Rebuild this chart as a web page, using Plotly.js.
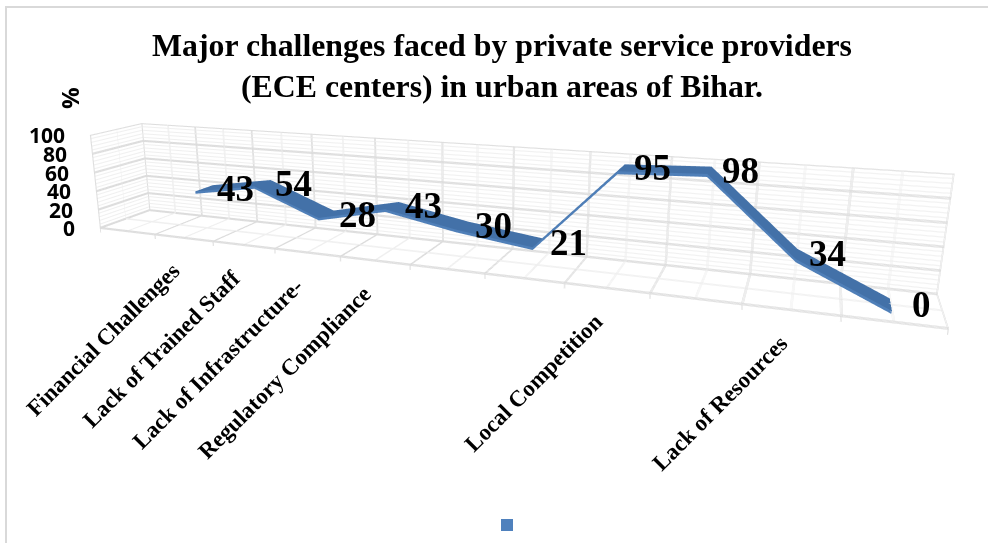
<!DOCTYPE html>
<html><head><meta charset="utf-8">
<script src="https://cdn.plot.ly/plotly-3.0.1.min.js"></script>
<style>html,body{margin:0;padding:0;background:#fff;width:988px;height:543px;overflow:hidden}
#chart{position:absolute;left:-152px;top:-162px;width:1140px;height:768px}</style>
</head><body><div id="chart"></div>
<script>
const titleLines = ['Major challenges faced by private service providers', '(ECE centers) in urban areas of Bihar.'];
const valueAxisLabel = '%';
const slotLabels = ['', 'Financial Challenges', 'Lack of Trained Staff', 'Lack of Infrastructure-', 'Regulatory Compliance', '', '', 'Local Competition', '', 'Lack of Resources', ''];
const slotValues = [null, 43, 54, 28, 43, 30, 21, 95, 98, 34, 0];
const valueTicks = [0, 20, 40, 60, 80, 100];
const W = 1140, H = 768, OX = 152, OY = 162;
const px = x => (x + OX) / W, py = y => 1 - (y + OY) / H;

const serif = '"Liberation Serif", "Times New Roman", serif';
const sans = '"Open Sans", "Noto Sans", sans-serif';
const pts = slotValues.map((v, i) => ({v, x: i + 0.5, l: slotLabels[i]}));
const data = pts.filter(p => p.v !== null);
const xs = data.map(p => p.x), zs = data.map(p => p.v);
const nSlots = slotLabels.length;
const zMax = valueTicks[valueTicks.length - 1];
const zMin = -5;

// WebGL lines are one pixel wide here, so a thick gridline is a few neighbouring lines.
const clampX = v => Math.max(0, Math.min(nSlots, v)), clampZ = v => Math.max(zMin, Math.min(zMax, v));
function segs() {
  const s = {x: [], y: [], z: [],
    add(a, b, axis, step, copies) {
      for (let c = 0; c < copies; c++) {
        const d = (c - (copies - 1) / 2) * step;
        const dx = axis === 'x' ? d : 0, dz = axis === 'z' ? d : 0;
        s.x.push(clampX(a[0] + dx), clampX(b[0] + dx), null);
        s.y.push(a[1], b[1], null);
        s.z.push(clampZ(a[2] + dz), clampZ(b[2] + dz), null);
      }
    }};
  return s;
}
const minor = segs(), major = segs();
const XS = .011, ZS = .6;
for (let z = 0; z <= zMax; z += 4) {
  if (z % 20) { minor.add([0, 1, z], [nSlots, 1, z], 'z', ZS, 2); minor.add([0, 0, z], [0, 1, z], 'z', ZS, 2); }
}
for (let i = 0; i < nSlots; i++) { minor.add([i + .5, 1, 0], [i + .5, 1, zMax], 'x', XS, 3); minor.add([i + .5, 0, 0], [i + .5, 1, 0], 'x', XS, 3); }
minor.add([0, .5, 0], [0, .5, zMax], 'z', ZS, 1); minor.add([0, .5, 0], [nSlots, .5, 0], 'z', ZS, 3);
valueTicks.forEach(z => { major.add([0, 1, z], [nSlots, 1, z], 'z', ZS, 4); major.add([0, 0, z], [0, 1, z], 'z', ZS, 4); });
for (let i = 0; i <= nSlots; i++) {
  major.add([i, 1, 0], [i, 1, zMax], 'x', XS, 3);
  major.add([i, 0, 0], [i, 1, 0], 'x', XS, 3);
  major.add([i, 0, 0], [i, 0, zMin], 'x', XS, 2);
}
major.add([0, 0, 0], [0, 0, zMax], 'x', XS, 3); major.add([0, 0, 0], [nSlots, 0, 0], 'z', ZS, 4);

const ribbonFront = .31, ribbonBack = .69, lipDepth = 2.5;
const flat = c => [[0, c], [1, c]];
const noLight = {ambient: 1, diffuse: 0, specular: 0, roughness: 1, fresnel: 0};
const traces = [
  {type: 'scatter3d', mode: 'lines', x: minor.x, y: minor.y, z: minor.z, line: {color: '#efefef', width: 1}, hoverinfo: 'skip', showlegend: false, connectgaps: false},
  {type: 'scatter3d', mode: 'lines', x: major.x, y: major.y, z: major.z, line: {color: '#dcdcdc', width: 1}, hoverinfo: 'skip', showlegend: false, connectgaps: false},
  {type: 'surface', x: xs, y: [ribbonFront, ribbonBack], z: [zs, zs], surfacecolor: [zs.map(() => 0), zs.map(() => 0)],
   colorscale: flat('#4371a8'), cmin: 0, cmax: 1, showscale: false, hoverinfo: 'skip', lighting: noLight},
  {type: 'surface', x: [xs, xs], y: [xs.map(() => ribbonFront), xs.map(() => ribbonFront)], z: [zs.map(v => Math.max(zMin, v - lipDepth)), zs], surfacecolor: [zs.map(() => 0), zs.map(() => 0)],
   colorscale: flat('#4f7fb8'), cmin: 0, cmax: 1, showscale: false, hoverinfo: 'skip', lighting: noLight},
  {type: 'scatter3d', mode: 'markers', x: [null], y: [null], z: [null], name: ' ',
   marker: {symbol: 'square', size: 12, color: '#4f81bd'}, showlegend: true, hoverinfo: 'skip'}
];

const ann = [];
data.forEach(p => ann.push({x: p.x, y: .5, z: p.v, text: '<b>' + p.v + '</b>', showarrow: false, xanchor: 'center', yanchor: 'middle', xshift: 31, yshift: 0,
  font: {family: serif, size: 37, color: '#000'}}));
pts.filter(p => p.l).forEach(p => ann.push({x: p.x, y: 0, z: 0, text: '<b>' + p.l + '</b>', showarrow: false, textangle: -45, xanchor: 'right', yanchor: 'top', xshift: 4, yshift: -18,
  font: {family: serif, size: 23, color: '#000'}}));
valueTicks.forEach(v => ann.push({x: 0, y: 0, z: v, text: '<b>' + v + '</b>', showarrow: false, xanchor: 'right', yanchor: 'middle', xshift: -23,
  font: {family: sans, size: 21, color: '#000'}}));

const axisBase = {showbackground: false, showspikes: false, showticklabels: false, title: {text: ''}, zeroline: false,
  showgrid: false, showline: false, ticks: '', autorange: false};

const layout = {
  width: W, height: H, margin: {l: 0, r: 0, t: 0, b: 0}, paper_bgcolor: 'rgba(0,0,0,0)', plot_bgcolor: 'rgba(0,0,0,0)',
  title: {text: titleLines.map(t => '<b>' + t + '</b>').join('<br>'), x: px(502), xanchor: 'center', y: py(56), yanchor: 'middle', font: {family: serif, size: 31.8, color: '#000'}},
  showlegend: true,
  legend: {x: px(487), y: py(525), xanchor: 'left', yanchor: 'middle', bgcolor: 'rgba(0,0,0,0)', font: {size: 12}},
  annotations: [{xref: 'paper', yref: 'paper', x: px(69), y: py(98), xanchor: 'center', yanchor: 'middle', text: '<b>' + valueAxisLabel + '</b>', textangle: -90, showarrow: false, font: {family: sans, size: 24, color: '#000'}}],
  shapes: [{type: 'rect', xref: 'paper', yref: 'paper', x0: px(6), x1: px(1000), y0: py(7), y1: py(560), line: {color: '#d9d9d9', width: 2}}],
  scene: {
    domain: {x: [0, 1], y: [0, 1]},
    aspectmode: 'manual', aspectratio: {x: 2, y: .204, z: .2649},
    camera: {eye: {x: .738, y: -1.965, z: .5333}, center: {x: -.03, y: -.194, z: .0113}, up: {x: -.0911, y: .2455, z: .9654}, projection: {type: 'perspective'}},
    xaxis: Object.assign({}, axisBase, {range: [0, nSlots]}),
    yaxis: Object.assign({}, axisBase, {range: [0, 1]}),
    zaxis: Object.assign({}, axisBase, {range: [zMin, zMax]}),
    annotations: ann, dragmode: false
  }
};
Plotly.newPlot('chart', traces, layout, {displayModeBar: false, responsive: false});
</script></body></html>
